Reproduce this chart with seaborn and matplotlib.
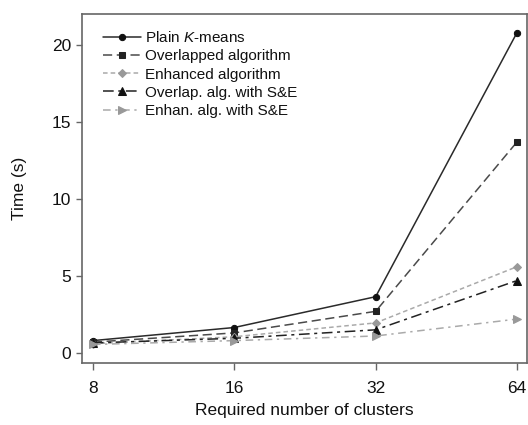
import matplotlib
matplotlib.use("Agg")
import matplotlib.pyplot as plt
import seaborn as sns
import pandas as pd
from matplotlib.ticker import FixedLocator, FixedFormatter, NullLocator

clusters = [8, 16, 32, 64]
series_names = ["Plain $K$-means", "Overlapped algorithm", "Enhanced algorithm",
                "Overlap. alg. with S&E", "Enhan. alg. with S&E"]
plain = [0.80, 1.65, 3.65, 20.8]
overlapped = [0.70, 1.30, 2.70, 13.7]
enhanced = [0.60, 1.05, 1.95, 5.6]
overlap_se = [0.65, 0.95, 1.50, 4.7]
enhan_se = [0.55, 0.80, 1.10, 2.2]
yticks = [0, 5, 10, 15, 20]

sns.set_theme(style="white")
plt.rcParams["font.family"] = ["Liberation Sans", "DejaVu Sans"]
plt.rcParams["mathtext.fontset"] = "custom"
plt.rcParams["mathtext.it"] = "Liberation Sans:italic"
plt.rcParams["mathtext.rm"] = "Liberation Sans"

fig = plt.figure(figsize=(5.28, 4.25), dpi=100)
ax = fig.add_axes([0.155, 0.146, 0.843, 0.821])

styles = [
    dict(color="#2a2a2a", marker="o", mfc="#111111", ms=4.5, dashes=None),
    dict(color="#4a4a4a", marker="s", mfc="#222222", ms=4.5, dashes=(6, 3)),
    dict(color="#aaaaaa", marker="D", mfc="#999999", ms=4.5, dashes=(3, 2)),
    dict(color="#222222", marker="^", mfc="#111111", ms=5.5, dashes=(7, 3, 2, 3)),
    dict(color="#aaaaaa", marker=">", mfc="#999999", ms=5.5, dashes=(5, 3, 1.5, 3)),
]
values = [plain, overlapped, enhanced, overlap_se, enhan_se]

for name, vals, st in zip(series_names, values, styles):
    df = pd.DataFrame({"clusters": clusters, "time": vals})
    kw = dict(color=st["color"], marker=st["marker"], markersize=st["ms"],
              markerfacecolor=st["mfc"], markeredgecolor=st["mfc"],
              linewidth=1.1, label=name)
    sns.lineplot(data=df, x="clusters", y="time", ax=ax, **kw)
    ln = ax.lines[-1]
    if st["dashes"] is not None:
        ln.set_dashes(st["dashes"])

ax.set_xscale("log", base=2)
ax.set_xlim(8 * 2 ** (-0.078), 64 * 2 ** 0.07)
ax.set_ylim(-0.65, 22.0)
ax.xaxis.set_major_locator(FixedLocator(clusters))
ax.xaxis.set_major_formatter(FixedFormatter([str(c) for c in clusters]))
ax.xaxis.set_minor_locator(NullLocator())
ax.set_yticks(yticks)
ax.set_yticklabels([str(t) for t in yticks])

for s in ax.spines.values():
    s.set_color("#666666")
    s.set_linewidth(1.2)
ax.tick_params(axis="both", which="major", direction="out", width=1,
               color="#666666", labelsize=12.5, bottom=True, left=True,
               labelcolor="#111111")
ax.tick_params(axis="x", length=5, pad=8)
ax.tick_params(axis="y", length=4.5, pad=3)

ax.set_xlabel("Required number of clusters", fontsize=12.5, color="#111111", labelpad=5)
ax.set_ylabel("Time (s)", fontsize=12.5, color="#111111", labelpad=18)

leg = ax.legend(loc="upper left", frameon=False, fontsize=11, handlelength=2.5,
                handletextpad=0.25, labelspacing=0.28, borderaxespad=0.3,
                bbox_to_anchor=(0.023, 0.985), numpoints=1)
for t in leg.get_texts():
    t.set_color("#111111")

fig.savefig("out.png", dpi=100)
